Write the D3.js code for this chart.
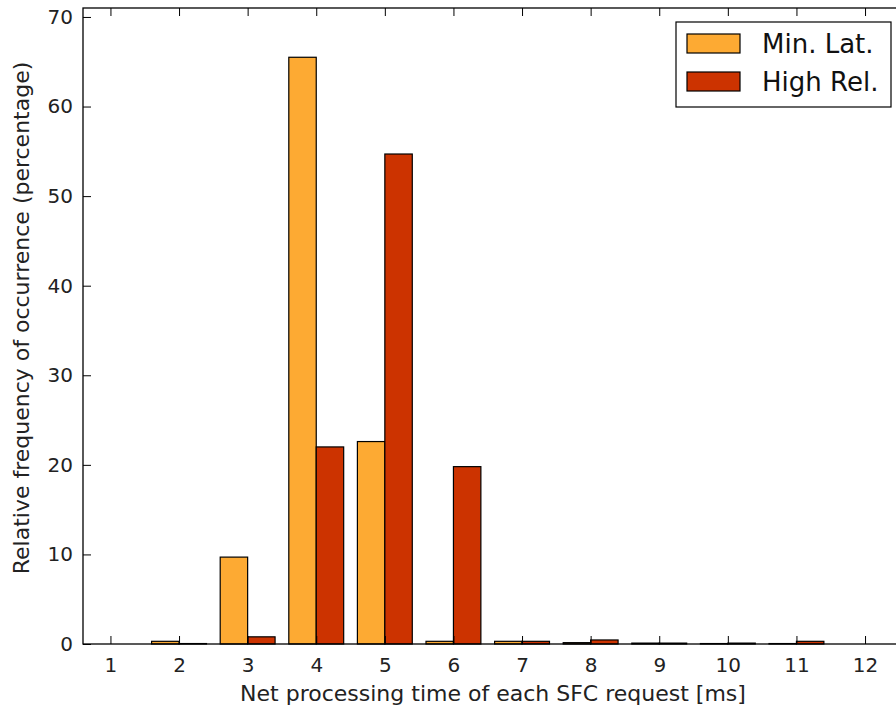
<!DOCTYPE html>
<html lang="en">
<head>
    <meta charset="UTF-8">
    <title>SFC processing time</title>
    <script src="https://d3js.org/d3.v7.min.js"></script>
    <style>
        body { margin: 0; background: #fff; }
        svg { display: block; font-family: "DejaVu Sans", sans-serif; }
    </style>
</head>
<body>
    <div id="chart"></div>
    <script>
        // data
        const times = [1, 2, 3, 4, 5, 6, 7, 8, 9, 10, 11, 12];
        const minLat = [0, 0.3, 9.7, 65.5, 22.6, 0.3, 0.3, 0.15, 0.1, 0.05, 0.05, 0];
        const highRel = [0, 0.05, 0.8, 22.0, 54.7, 19.8, 0.3, 0.45, 0.1, 0.1, 0.3, 0];
        const yTicks = [0, 10, 20, 30, 40, 50, 60, 70];
        const seriesNames = ['Min. Lat.', 'High Rel.'];
        const colors = ['#fdaa33', '#cc3300'];

        const width = 896, height = 715;
        const plotLeft = 83, plotTop = 8, plotBottom = 644;

        const svg = d3.select('#chart').append('svg')
            .attr('width', width)
            .attr('height', height);

        const x = d3.scaleLinear().domain([0.6, 12.6]).range([plotLeft, plotLeft + 12 * 68.6]);
        const y = d3.scaleLinear().domain([0, 71]).range([plotBottom, plotTop]);
        const barW = 0.4;

        const series = [minLat, highRel];
        series.forEach((vals, s) => {
            svg.append('g').selectAll('rect')
                .data(vals)
                .enter().append('rect')
                .attr('x', (d, i) => x(times[i] - barW + s * barW))
                .attr('width', x(barW) - x(0))
                .attr('y', d => y(d))
                .attr('height', d => y(0) - y(d))
                .attr('fill', colors[s])
                .attr('stroke', '#000')
                .attr('stroke-width', 1.2);
        });

        // frame
        const plotRight = x.range()[1];
        svg.append('rect')
            .attr('x', plotLeft).attr('y', plotTop)
            .attr('width', plotRight - plotLeft).attr('height', plotBottom - plotTop)
            .attr('fill', 'none').attr('stroke', '#000').attr('stroke-width', 1.3);

        // ticks pointing inward on all four sides
        svg.append('g').attr('transform', `translate(0,${plotBottom})`)
            .call(d3.axisBottom(x).tickValues(times).tickSize(-8).tickPadding(14));
        svg.append('g').attr('transform', `translate(0,${plotTop})`)
            .call(d3.axisTop(x).tickValues(times).tickSize(-8).tickFormat(''));
        svg.append('g').attr('transform', `translate(${plotLeft},0)`)
            .call(d3.axisLeft(y).tickValues(yTicks).tickSize(-8).tickPadding(10));
        svg.append('g').attr('transform', `translate(${plotRight},0)`)
            .call(d3.axisRight(y).tickValues(yTicks).tickSize(-8).tickFormat(''));

        svg.selectAll('.domain').remove();
        svg.selectAll('.tick line').attr('stroke', '#000').attr('stroke-width', 1);
        svg.selectAll('.tick text')
            .attr('fill', '#222')
            .style('font-family', '"DejaVu Sans", sans-serif')
            .style('font-size', '20px');

        // axis titles
        svg.append('text')
            .attr('x', 493).attr('y', 701)
            .attr('text-anchor', 'middle')
            .style('font-size', '22px').attr('fill', '#222')
            .text('Net processing time of each SFC request [ms]');
        svg.append('text')
            .attr('transform', 'translate(29,318) rotate(-90)')
            .attr('text-anchor', 'middle')
            .style('font-size', '22px').attr('fill', '#222')
            .text('Relative frequency of occurrence (percentage)');

        // legend
        const lg = svg.append('g').attr('transform', 'translate(676,22)');
        lg.append('rect')
            .attr('width', 215).attr('height', 85)
            .attr('fill', '#fff').attr('stroke', '#000').attr('stroke-width', 1.2);
        seriesNames.forEach((name, i) => {
            lg.append('rect')
                .attr('x', 11).attr('y', 12 + i * 38)
                .attr('width', 53).attr('height', 19)
                .attr('fill', colors[i]).attr('stroke', '#000').attr('stroke-width', 1.2);
            lg.append('text')
                .attr('x', 86).attr('y', 31 + i * 38)
                .style('font-size', '26px').attr('fill', '#111')
                .text(name);
        });
    </script>
</body>
</html>
